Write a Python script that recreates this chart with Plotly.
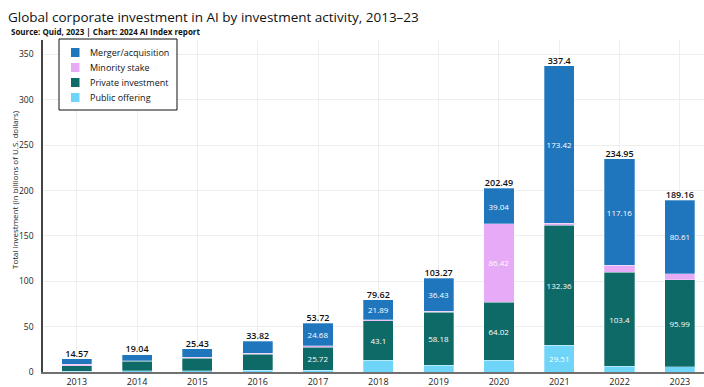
import plotly.graph_objects as go

years = ["2013", "2014", "2015", "2016", "2017", "2018", "2019", "2020", "2021", "2022", "2023"]
merger_acquisition = [6.2, 6.5, 9.3, 12.9, 24.68, 21.89, 36.43, 39.04, 173.42, 117.16, 80.61]
minority_stake = [1.3, 0.7, 0.8, 1.2, 1.5, 1.43, 0.96, 86.42, 2.11, 7.8, 7.0]
private_investment = [6.2, 10.5, 14.0, 17.9, 25.72, 43.1, 58.18, 64.02, 132.36, 103.4, 95.99]
public_offering = [0.87, 1.34, 1.33, 1.82, 1.82, 13.2, 7.7, 12.99, 29.51, 6.59, 5.56]
totals = [14.57, 19.04, 25.43, 33.82, 53.72, 79.62, 103.27, 202.49, 337.4, 234.95, 189.16]
y_ticks = [0, 50, 100, 150, 200, 250, 300, 350]

FONT = "Open Sans"
W, H = 704, 387
L, R, T, B = 43, 0, 40, 15
PW, PH = W - L - R, H - T - B


def px_x(px):
    return (px - L) / PW


def px_y(py):
    return (H - B - py) / PH


series = [
    ("Public offering", public_offering, "#6ED4F8"),
    ("Private investment", private_investment, "#0E6A66"),
    ("Minority stake", minority_stake, "#E6AAF6"),
    ("Merger/acquisition", merger_acquisition, "#1F76BD"),
]

fig = go.Figure()
for name, vals, color in series:
    fig.add_trace(go.Bar(
        x=years, y=vals, name=name,
        marker=dict(color=color, line=dict(color="rgba(255,255,255,0.6)", width=0.5)),
        text=[(f"{v:g}" if v >= 20 else "") for v in vals],
        textposition="inside", insidetextanchor="middle", textangle=0,
        constraintext="none",
        textfont=dict(color="white", size=8, family=FONT),
        hoverinfo="skip", showlegend=False,
    ))

fig.add_trace(go.Scatter(
    x=years, y=totals, mode="text", text=[f"{v:g}" for v in totals],
    textposition="top center", showlegend=False,
    textfont=dict(color="#111111", size=9, family=FONT, weight=600),
    hoverinfo="skip",
))

# custom legend (box, swatches, labels) built from the series list
shapes = [dict(type="rect", xref="paper", yref="paper",
               x0=px_x(59), x1=px_x(177), y0=px_y(39), y1=px_y(110),
               line=dict(color="#111111", width=1), fillcolor="white", layer="above")]
annotations = []
legend_items = list(reversed(series))
for i, (name, _, color) in enumerate(legend_items):
    cy = 52.5 + i * 15
    shapes.append(dict(type="rect", xref="paper", yref="paper",
                       x0=px_x(71), x1=px_x(79.5), y0=px_y(cy - 4.5), y1=px_y(cy + 4.5),
                       line=dict(width=0), fillcolor=color, layer="above"))
    annotations.append(dict(text=name, xref="paper", yref="paper",
                            x=px_x(88), y=px_y(cy), xanchor="left", yanchor="middle",
                            showarrow=False,
                            font=dict(size=9, family=FONT, color="#111111")))

annotations += [
    dict(text="Global corporate investment in AI by investment activity, 2013–23",
         xref="paper", yref="paper", x=px_x(6), y=px_y(17),
         xanchor="left", yanchor="middle", showarrow=False,
         font=dict(size=13.5, family=FONT, color="#111111")),
    dict(text="<b>Source: Quid, 2023 | Chart: 2024 AI Index report</b>",
         xref="paper", yref="paper", x=px_x(9), y=px_y(31),
         xanchor="left", yanchor="middle", showarrow=False,
         font=dict(size=8, family=FONT, color="#111111")),
    dict(text="Total investment (in billions of U.S. dollars)",
         xref="paper", yref="paper", x=px_x(15), y=px_y(190),
         xanchor="center", yanchor="middle", textangle=-90, showarrow=False,
         font=dict(size=8, family=FONT, color="#222222")),
]

fig.update_layout(
    width=W, height=H,
    margin=dict(l=L, r=R, t=T, b=B),
    barmode="stack", bargap=0.5,
    plot_bgcolor="white", paper_bgcolor="white",
    font=dict(family=FONT, color="#222222", size=9),
    showlegend=False,
    shapes=shapes,
    annotations=annotations,
)

fig.update_xaxes(
    type="category", range=[-0.56, 10.4],
    showgrid=True, gridcolor="#EEEEEE", gridwidth=1,
    showline=True, linecolor="#707070", linewidth=2,
    ticks="", tickfont=dict(size=9, family=FONT, color="#222222"),
    fixedrange=True,
)
fig.update_yaxes(
    range=[0, 366], tickvals=y_ticks,
    showgrid=True, gridcolor="#EEEEEE", gridwidth=1,
    showline=True, linecolor="#444444", linewidth=1.5,
    zeroline=False, ticks="", ticklabelstandoff=6,
    tickfont=dict(size=8.5, family=FONT, color="#222222"),
)

fig.write_html("out.html")
